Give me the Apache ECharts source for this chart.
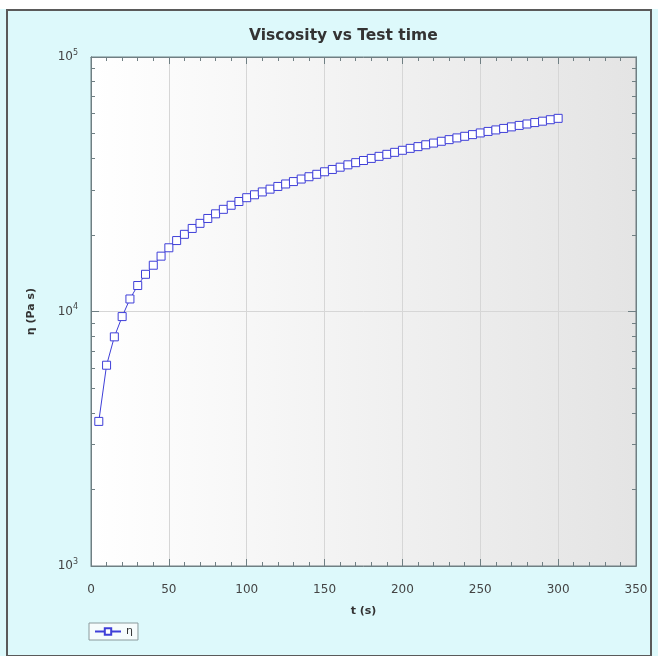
<!DOCTYPE html>
<html>
<head>
    <meta charset="utf-8">
    <title>Viscosity vs Test time</title>
    <script src="https://cdn.jsdelivr.net/npm/echarts@6/dist/echarts.min.js"></script>
    <style>
        * { margin: 0; padding: 0; }
        body { background: #fff; }
    </style>
</head>
<body>
    <div id="main" style="width: 658px; height: 656px;"></div>
    <script type="text/javascript">
        // test time (s)
        var times = [5, 10, 15, 20, 25, 30, 35, 40, 45, 50,
            55, 60, 65, 70, 75, 80, 85, 90, 95, 100,
            105, 110, 115, 120, 125, 130, 135, 140, 145, 150,
            155, 160, 165, 170, 175, 180, 185, 190, 195, 200,
            205, 210, 215, 220, 225, 230, 235, 240, 245, 250,
            255, 260, 265, 270, 275, 280, 285, 290, 295, 300];
        // viscosity (Pa s)
        var viscosity = [3700, 6150, 7950, 9550, 11200, 12650, 14000, 15200, 16500, 17800,
            19000, 20100, 21200, 22200, 23200, 24200, 25200, 26150, 27050, 28000,
            28750, 29500, 30250, 31000, 31700, 32400, 33150, 33850, 34600, 35400,
            36150, 36900, 37700, 38450, 39200, 39950, 40700, 41450, 42200, 43000,
            43750, 44450, 45200, 45900, 46650, 47350, 48100, 48800, 49550, 50300,
            51000, 51700, 52400, 53150, 53850, 54550, 55250, 55950, 56700, 57400];

        var majorY = [1000, 10000, 100000];
        var minorY = [2000, 3000, 4000, 5000, 6000, 7000, 8000, 9000,
            20000, 30000, 40000, 50000, 60000, 70000, 80000, 90000];
        var expo = { 1000: 3, 10000: 4, 100000: 5 };

        var myChart = echarts.init(document.getElementById('main'));
        var blue = '#3f3fd8';
        var axisGray = '#6f7f83';
        var font = 'DejaVu Sans';

        function logAxis(pos, vals, len, labels) {
            return {
                type: 'log', logBase: 10, min: 1000, max: 100000, position: pos,
                axisLine: { show: true, onZero: false, lineStyle: { color: axisGray } },
                axisTick: { show: true, inside: true, length: len, customValues: vals, lineStyle: { color: axisGray } },
                axisLabel: labels ? {
                    show: true, customValues: majorY, margin: 13,
                    formatter: function (v) { return '{b|10}{s|' + expo[Math.round(v)] + '}'; },
                    rich: {
                        b: { fontSize: 12, color: '#444', fontFamily: font },
                        s: { fontSize: 8, color: '#444', fontFamily: font, verticalAlign: 'bottom', padding: [0, 0, 9, 0] }
                    }
                } : { show: false },
                splitLine: { show: labels, lineStyle: { color: '#d6d6d6' } }
            };
        }

        function linAxis(pos, labels) {
            return {
                type: 'value', min: 0, max: 350, interval: 50, position: pos,
                axisLine: { show: true, onZero: false, lineStyle: { color: axisGray } },
                axisTick: { show: true, inside: true, length: 7, lineStyle: { color: axisGray } },
                minorTick: { show: true, splitNumber: 5, length: 4, lineStyle: { color: axisGray } },
                axisLabel: { show: labels, margin: 18, fontSize: 12, color: '#444', fontFamily: font },
                splitLine: { show: labels, lineStyle: { color: '#d6d6d6' } },
                name: labels ? 't (s)' : '',
                nameLocation: 'middle', nameGap: 40,
                nameTextStyle: { fontSize: 11, fontWeight: 'bold', color: '#333', fontFamily: font }
            };
        }

        var yLeft = logAxis('left', majorY, 8, true);
        yLeft.name = 'η (Pa s)';
        yLeft.nameLocation = 'middle';
        yLeft.nameGap = 54;
        yLeft.nameTextStyle = { fontSize: 11, fontWeight: 'bold', color: '#333', fontFamily: font };

        var option = {
            backgroundColor: '#ddf9fb',
            animation: false,
            title: {
                text: 'Viscosity vs Test time',
                left: 244, top: 23,
                textStyle: { fontSize: 15.5, fontWeight: 'bold', color: '#333', fontFamily: font }
            },
            graphic: {
                elements: [
                    { type: 'rect', shape: { x: 0, y: 0, width: 658, height: 9 }, style: { fill: '#fff' } },
                    { type: 'rect', shape: { x: 7, y: 10, width: 644, height: 646 }, style: { fill: null, stroke: '#5a5a5a', lineWidth: 2 } }
                ]
            },
            grid: {
                left: 91, right: 22, top: 57, bottom: 90,
                show: true,
                borderColor: axisGray, borderWidth: 1,
                backgroundColor: new echarts.graphic.LinearGradient(0, 0, 1, 0, [
                    { offset: 0, color: '#ffffff' },
                    { offset: 1, color: '#e4e4e4' }
                ])
            },
            legend: {
                left: 89, top: 623,
                itemWidth: 26, itemHeight: 8, itemGap: 4,
                padding: [3, 5],
                borderColor: '#8a9a9c', borderWidth: 1,
                backgroundColor: '#f6fcfc',
                textStyle: { fontSize: 11, color: '#333', fontFamily: font },
                data: ['η']
            },
            xAxis: [linAxis('bottom', true), linAxis('top', false)],
            yAxis: [
                yLeft,
                logAxis('left', minorY, 4, false),
                logAxis('right', majorY, 8, false),
                logAxis('right', minorY, 4, false)
            ],
            series: [{
                name: 'η',
                type: 'line',
                xAxisIndex: 0, yAxisIndex: 0,
                data: times.map(function (t, i) { return [t, viscosity[i]]; }),
                symbol: 'rect', symbolSize: 8, showAllSymbol: true,
                lineStyle: { color: blue, width: 1 },
                itemStyle: { color: '#fff', borderColor: blue, borderWidth: 1 }
            }]
        };

        myChart.setOption(option);
    </script>
</body>
</html>
